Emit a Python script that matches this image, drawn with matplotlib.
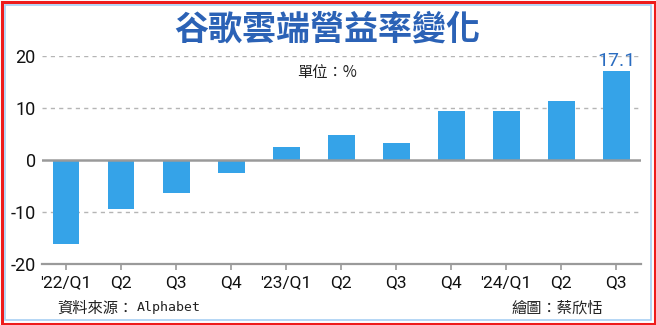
import matplotlib
matplotlib.use("Agg")
import matplotlib.pyplot as plt
from matplotlib.patches import Rectangle

# ---- data ----
categories = ["'22/Q1", "Q2", "Q3", "Q4", "'23/Q1", "Q2", "Q3", "Q4", "'24/Q1", "Q2", "Q3"]
margins = [-16.1, -9.4, -6.4, -2.5, 2.5, 4.9, 3.2, 9.4, 9.4, 11.3, 17.1]
y_ticks = [-20, -10, 0, 10, 20]
title = "谷歌雲端營益率變化"
unit_text = "單位：%"
source_cjk = "資料來源："
source_name = "Alphabet"
credit = "繪圖：蔡欣恬"

W, H = 656, 325
CJK = ["Noto Sans CJK TC", "DejaVu Sans"]
NUM = ["Roboto", "DejaVu Sans"]

fig = plt.figure(figsize=(W / 100, H / 100), dpi=100)
fig.patch.set_facecolor("white")

def fx(x):
    return x / W

def fy(y):
    return 1 - y / H

# axes placement (pixels): x 42..641, y 56 (=20) .. 264 (=-20)
ax = fig.add_axes([fx(42), fy(264), (641 - 42) / W, (264 - 56) / H])
ax.set_facecolor("none")
ax.set_ylim(-20, 20)
ax.set_xlim(-0.436, len(categories) - 1 + 0.45)

xs = list(range(len(categories)))
ax.bar(xs, margins, width=0.49, color="#35a3e8", zorder=3)

# grid lines
for v in y_ticks:
    if v in (10, 20, -10):
        ax.axhline(v, color="#b5b5b5", lw=1.0, dashes=(3, 3), zorder=1)
ax.axhline(0, color="#9a9a9a", lw=1.8, zorder=4)

for s in ["top", "right", "left"]:
    ax.spines[s].set_visible(False)
ax.spines["bottom"].set_color("#9a9a9a")
ax.spines["bottom"].set_linewidth(1.6)

ax.set_yticks(y_ticks)
ax.set_yticklabels([str(v) for v in y_ticks], family=NUM, fontsize=13, color="#111111")
ax.tick_params(axis="y", length=0, pad=4.5)
ax.set_xticks(xs)
ax.set_xticklabels(categories, family=NUM, fontsize=12.5, color="#111111")
ax.tick_params(axis="x", length=4.5, width=1.2, color="#9a9a9a", pad=3.5)

# value label on last bar
ax.annotate(f"{margins[-1]}", xy=(xs[-1], margins[-1]), xytext=(0, 3.8),
            textcoords="offset points", ha="center", va="baseline",
            fontsize=14, color="#2a6cc0", family=NUM, zorder=5, annotation_clip=False)

# title and texts
fig.text(fx(327), fy(29), title, ha="center", va="center", fontsize=24.5,
         fontweight="bold", color="#2b62b6", family=CJK)
fig.text(fx(327), fy(72), unit_text, ha="center", va="center", fontsize=11,
         color="#222222", family=CJK)
fig.text(fx(57), fy(308), source_cjk, ha="left", va="center", fontsize=11,
         color="#222222", family=CJK)
fig.text(fx(137), fy(308), source_name, ha="left", va="center", fontsize=9.5,
         color="#222222", family=["DejaVu Sans Mono"])
fig.text(fx(603), fy(308), credit, ha="right", va="center", fontsize=11,
         color="#222222", family=CJK)

# borders
fig.patches.append(Rectangle((fx(1.5), fy(H - 1.5)), (W - 3) / W, (H - 3) / H,
                             transform=fig.transFigure, fill=False,
                             edgecolor="#ee1c1c", lw=2.2, zorder=10))
fig.patches.append(Rectangle((fx(5), fy(H - 5.5)), (W - 10.5) / W, (H - 10.5) / H,
                             transform=fig.transFigure, fill=False,
                             edgecolor="#a8d0f4", lw=1.2, zorder=10))

fig.savefig("out.png", dpi=100)
